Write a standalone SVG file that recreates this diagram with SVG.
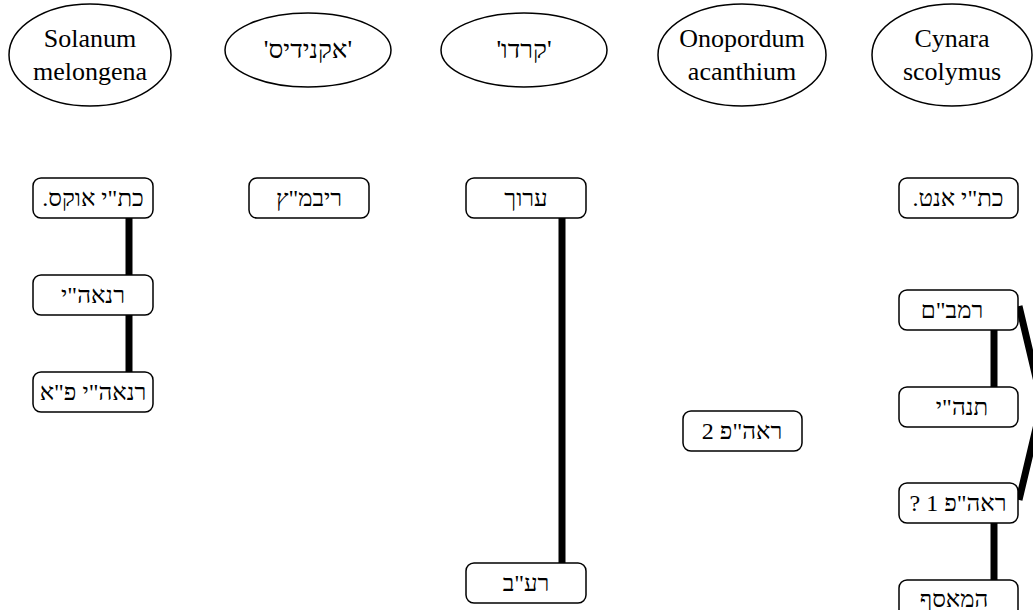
<svg xmlns="http://www.w3.org/2000/svg" width="1033" height="610" viewBox="0 0 1033 610">
<style>
.el{fill:#fff;stroke:#000;stroke-width:1.5}
.bx{fill:#fff;stroke:#000;stroke-width:1.5}
.t{font-size:26px;fill:#000;text-anchor:middle}
.b{font-size:24px;fill:#000;text-anchor:middle}
.c{stroke:#000;stroke-width:7;fill:none}
</style>
<rect width="1033" height="610" fill="#fff"/>
<g id="connectors">
<line class="c" x1="129" y1="218" x2="129" y2="275"/>
<line class="c" x1="129" y1="315" x2="129" y2="372"/>
<line class="c" x1="562" y1="218" x2="562" y2="563"/>
<line class="c" x1="994" y1="330" x2="994" y2="387"/>
<line class="c" x1="994" y1="523" x2="994" y2="580"/>
<path class="c" d="M1019,306 L1042,403 L1019,500"/>
</g>
<g font-family="'Liberation Serif', 'DejaVu Serif', serif">
<g id="n-solanum"><ellipse class="el" cx="90" cy="55" rx="81" ry="51"/><text class="t" x="90" y="47">Solanum</text><text class="t" x="90" y="80">melongena</text></g>
<g id="n-akanidis"><ellipse class="el" cx="308" cy="50" rx="83" ry="37"/><text class="t" x="308" y="58" direction="rtl">'אקנידיס'</text></g>
<g id="n-kardo"><ellipse class="el" cx="524" cy="50" rx="83" ry="37"/><text class="t" x="524" y="58" direction="rtl">'קרדו'</text></g>
<g id="n-onopordum"><ellipse class="el" cx="742" cy="55" rx="84" ry="51"/><text class="t" x="742" y="47">Onopordum</text><text class="t" x="742" y="80">acanthium</text></g>
<g id="n-cynara"><ellipse class="el" cx="952" cy="55" rx="80" ry="51"/><text class="t" x="952" y="47">Cynara</text><text class="t" x="952" y="80">scolymus</text></g>

<g id="n-oks"><rect class="bx" x="33" y="178" width="120" height="40" rx="8"/><text class="b" x="93" y="206" direction="rtl">כת"י אוקס.</text></g>
<g id="n-renaei"><rect class="bx" x="33" y="275" width="120" height="40" rx="8"/><text class="b" x="93" y="303" direction="rtl">רנאה"י</text></g>
<g id="n-renaei-pa"><rect class="bx" x="33" y="372" width="120" height="40" rx="8"/><text class="b" x="93" y="400" direction="rtl">רנאה"י פ"א</text></g>
<g id="n-ribmatz"><rect class="bx" x="249" y="178" width="120" height="40" rx="8"/><text class="b" x="309" y="206" direction="rtl">ריבמ"ץ</text></g>
<g id="n-aruch"><rect class="bx" x="466" y="178" width="120" height="40" rx="8"/><text class="b" x="526" y="206" direction="rtl">ערוך</text></g>
<g id="n-raav"><rect class="bx" x="466" y="563" width="120" height="40" rx="8"/><text class="b" x="526" y="591" direction="rtl">רע"ב</text></g>
<g id="n-reap2"><rect class="bx" x="683" y="411" width="119" height="40" rx="8"/><text class="b" x="742" y="439">ראה"פ 2</text></g>
<g id="n-ant"><rect class="bx" x="899" y="178" width="119" height="40" rx="8"/><text class="b" x="958" y="206" direction="rtl">כת"י אנט.</text></g>
<g id="n-rambam"><rect class="bx" x="899" y="290" width="119" height="40" rx="8"/><text class="b" x="952" y="318" direction="rtl">רמב"ם</text></g>
<g id="n-tanahi"><rect class="bx" x="899" y="387" width="119" height="40" rx="8"/><text class="b" x="962" y="415" direction="rtl">תנה"י</text></g>
<g id="n-reap1"><rect class="bx" x="899" y="483" width="119" height="40" rx="8"/><text class="b" x="958" y="511" direction="rtl">ראה"פ 1 ?</text></g>
<g id="n-measef"><rect class="bx" x="899" y="580" width="119" height="40" rx="8"/><text class="b" x="954" y="607" direction="rtl">המאסף</text></g>
</g>
</svg>
